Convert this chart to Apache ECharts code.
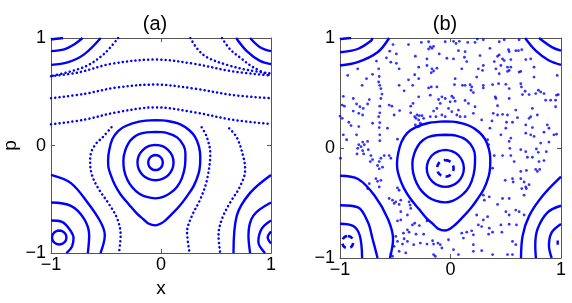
<!DOCTYPE html>
<html><head><meta charset="utf-8">
<script src="https://cdn.jsdelivr.net/npm/echarts@6/dist/echarts.min.js"></script>
<style>html,body{margin:0;padding:0;background:#fff}#c{width:572px;height:303px}</style>
</head><body><div id="c"></div>
<script>
// ---------- tick labels ----------
const ticks = [-1, 0, 1];
// ---------- panel (a) ----------
const aSmall = [[-0.05,-0.088],[-0.025,-0.093],[-0.003,-0.109],[0.011,-0.131],[0.016,-0.158],[0.011,-0.185],[-0.003,-0.207],[-0.025,-0.223],[-0.05,-0.228],[-0.075,-0.223],[-0.097,-0.207],[-0.111,-0.185],[-0.116,-0.158],[-0.111,-0.131],[-0.097,-0.109],[-0.075,-0.093],[-0.05,-0.088]];
const aMid = [[-0.05,0.006],[0.013,-0.006],[0.066,-0.042],[0.102,-0.095],[0.114,-0.158],[0.102,-0.221],[0.066,-0.274],[0.013,-0.31],[-0.05,-0.322],[-0.113,-0.31],[-0.166,-0.274],[-0.202,-0.221],[-0.214,-0.158],[-0.202,-0.095],[-0.166,-0.042],[-0.113,-0.006],[-0.05,0.006]];
const aEgg = [[-0.05,0.127],[0.05,0.118],[0.146,0.076],[0.205,0.0],[0.222,-0.076],[0.218,-0.19],[0.19,-0.303],[0.145,-0.385],[0.086,-0.44],[0.02,-0.478],[-0.05,-0.491],[-0.13,-0.478],[-0.2,-0.445],[-0.26,-0.39],[-0.306,-0.318],[-0.335,-0.23],[-0.342,-0.136],[-0.325,-0.045],[-0.291,0.03],[-0.25,0.075],[-0.2,0.106],[-0.13,0.123],[-0.05,0.127]];
const aTear = [[-0.05,0.236],[0.06,0.228],[0.176,0.197],[0.26,0.14],[0.312,0.076],[0.345,-0.01],[0.357,-0.106],[0.355,-0.18],[0.342,-0.258],[0.3,-0.37],[0.237,-0.47],[0.17,-0.56],[0.1,-0.636],[0.04,-0.695],[-0.005,-0.727],[-0.05,-0.742],[-0.11,-0.727],[-0.16,-0.685],[-0.216,-0.636],[-0.29,-0.55],[-0.367,-0.455],[-0.42,-0.365],[-0.457,-0.273],[-0.478,-0.2],[-0.481,-0.136],[-0.47,-0.04],[-0.442,0.06],[-0.39,0.135],[-0.321,0.182],[-0.2,0.222],[-0.05,0.236]];
const aL1 = [[-0.45,0.17],[-0.532,0.075],[-0.593,0.015],[-0.638,-0.076],[-0.644,-0.167],[-0.623,-0.288],[-0.563,-0.41],[-0.472,-0.545],[-0.397,-0.682],[-0.367,-0.834],[-0.382,-1.0]];
const aR1 = [[0.37,0.17],[0.418,0.075],[0.448,-0.076],[0.418,-0.318],[0.357,-0.5],[0.282,-0.652],[0.237,-0.803],[0.26,-1.0]];
const aR2 = [[0.62,0.16],[0.689,0.075],[0.749,-0.106],[0.765,-0.227],[0.719,-0.379],[0.629,-0.53],[0.554,-0.682],[0.523,-0.834],[0.538,-1.0]];
const aH1 = [[-1,0.645],[-0.75,0.68],[-0.45,0.76],[-0.05,0.80],[0.3,0.76],[0.65,0.69],[1,0.651]];
const aH2 = [[-1,0.44],[-0.7,0.48],[-0.4,0.54],[-0.05,0.567],[0.3,0.53],[0.65,0.47],[1,0.44]];
const aH3 = [[-1,0.197],[-0.7,0.24],[-0.4,0.31],[-0.05,0.355],[0.3,0.31],[0.65,0.24],[1,0.2]];
const aDL = [[-0.39,1.0],[-0.52,0.85],[-0.7,0.73],[-1,0.645]];
const aDR = [[0.554,1.0],[0.629,0.894],[0.719,0.818],[0.84,0.727],[0.991,0.651]];
const aDiag = [[0.267,1.0],[0.33,0.9],[0.42,0.82],[0.6,0.75],[0.8,0.7],[1,0.67]];
const aTL1 = [[-1,0.985],[-0.95,0.993],[-0.89,1.0]];
const aTL2 = [[-1,0.878],[-0.88,0.894],[-0.79,0.94],[-0.713,1.0]];
const aTL3 = [[-1,0.75],[-0.849,0.773],[-0.699,0.848],[-0.548,1.0]];
const aTRa = [[0.81,1.0],[0.90,0.915],[1.0,0.878]];
const aTRb = [[0.683,1.0],[0.78,0.878],[0.90,0.787],[1.0,0.757]];
const aBLs = [[-0.925,-0.79],[-0.9,-0.795],[-0.879,-0.809],[-0.865,-0.83],[-0.86,-0.855],[-0.865,-0.88],[-0.879,-0.901],[-0.9,-0.915],[-0.925,-0.92],[-0.95,-0.915],[-0.971,-0.901],[-0.985,-0.88],[-0.99,-0.855],[-0.985,-0.83],[-0.971,-0.809],[-0.95,-0.795],[-0.925,-0.79]];
const aBL2 = [[-1,-0.697],[-0.9,-0.71],[-0.83,-0.78],[-0.795,-0.86],[-0.81,-0.94],[-0.86,-1.0]];
const aBL3 = [[-1,-0.53],[-0.819,-0.561],[-0.699,-0.682],[-0.653,-0.834],[-0.665,-1.0]];
const aBL4 = [[-1,-0.273],[-0.819,-0.349],[-0.668,-0.53],[-0.548,-0.713],[-0.511,-0.834],[-0.55,-1.0]];
const aBR1 = [[1.0,-0.273],[0.81,-0.44],[0.689,-0.652],[0.659,-1.0]];
const aBR2 = [[1.0,-0.53],[0.84,-0.652],[0.795,-0.834],[0.81,-1.0]];
const aBR3 = [[1.0,-0.697],[0.916,-0.773],[0.885,-0.895],[0.946,-1.0]];
const aBR4 = [[1.0,-0.8],[0.97,-0.855],[1.0,-0.91]];
// ---------- panel (b) ----------
const bDash = [[-0.047,-0.11],[-0.018,-0.116],[0.006,-0.132],[0.022,-0.156],[0.028,-0.185],[0.022,-0.214],[0.006,-0.238],[-0.018,-0.254],[-0.047,-0.26],[-0.076,-0.254],[-0.1,-0.238],[-0.116,-0.214],[-0.122,-0.185],[-0.116,-0.156],[-0.1,-0.132],[-0.076,-0.116],[-0.047,-0.11]];
const bMid = [[-0.047,-0.017],[0.017,-0.03],[0.072,-0.066],[0.108,-0.121],[0.121,-0.185],[0.108,-0.249],[0.072,-0.304],[0.017,-0.34],[-0.047,-0.353],[-0.111,-0.34],[-0.166,-0.304],[-0.202,-0.249],[-0.215,-0.185],[-0.202,-0.121],[-0.166,-0.066],[-0.111,-0.03],[-0.047,-0.017]];
const bEgg = [[-0.05,0.12],[0.05,0.112],[0.146,0.07],[0.205,-0.005],[0.222,-0.08],[0.218,-0.19],[0.19,-0.305],[0.145,-0.387],[0.086,-0.442],[0.02,-0.48],[-0.05,-0.494],[-0.13,-0.48],[-0.2,-0.447],[-0.26,-0.392],[-0.306,-0.32],[-0.337,-0.23],[-0.345,-0.136],[-0.327,-0.048],[-0.291,0.025],[-0.25,0.07],[-0.2,0.1],[-0.13,0.116],[-0.05,0.12]];
const bTear = [[-0.05,0.242],[0.06,0.234],[0.176,0.2],[0.26,0.143],[0.312,0.08],[0.348,-0.01],[0.36,-0.106],[0.358,-0.18],[0.345,-0.258],[0.303,-0.37],[0.24,-0.47],[0.172,-0.562],[0.1,-0.64],[0.04,-0.7],[-0.005,-0.735],[-0.05,-0.75],[-0.11,-0.735],[-0.16,-0.69],[-0.216,-0.64],[-0.29,-0.55],[-0.367,-0.455],[-0.422,-0.365],[-0.46,-0.273],[-0.48,-0.2],[-0.484,-0.136],[-0.472,-0.04],[-0.442,0.06],[-0.39,0.137],[-0.321,0.185],[-0.2,0.227],[-0.05,0.242]];
const bTL1 = [[-1,0.99],[-0.95,0.996],[-0.9,1.0]];
const bTL2 = [[-1,0.87],[-0.84,0.90],[-0.72,0.975],[-0.705,1.0]];
const bTL3 = [[-1,0.75],[-0.84,0.78],[-0.66,0.87],[-0.555,1.0]];
const bTR1 = [[0.801,1.0],[0.921,0.915],[1.0,0.885]];
const bTR2 = [[0.675,1.0],[0.771,0.885],[0.891,0.795],[1.0,0.756]];
const bBL4 = [[-1,-0.252],[-0.837,-0.282],[-0.686,-0.434],[-0.566,-0.645],[-0.52,-0.827],[-0.548,-1.0]];
const bBL3 = [[-1,-0.52],[-0.837,-0.54],[-0.747,-0.676],[-0.705,-0.827],[-0.66,-1.0]];
const bBL2 = [[-1,-0.688],[-0.88,-0.71],[-0.82,-0.8],[-0.80,-1.0]];
const bBLd = [[-0.93,-0.8],[-0.91,-0.804],[-0.894,-0.816],[-0.884,-0.835],[-0.88,-0.855],[-0.884,-0.875],[-0.894,-0.894],[-0.91,-0.906],[-0.93,-0.91],[-0.95,-0.906],[-0.966,-0.894],[-0.976,-0.875],[-0.98,-0.855],[-0.976,-0.835],[-0.966,-0.816],[-0.95,-0.804],[-0.93,-0.8]];
const bBR1 = [[1.0,-0.26],[0.834,-0.434],[0.713,-0.615],[0.653,-0.797],[0.638,-1.0]];
const bBR2 = [[1.0,-0.525],[0.879,-0.585],[0.788,-0.736],[0.767,-0.888],[0.773,-1.0]];
const bBR3 = [[1.0,-0.69],[0.916,-0.767],[0.891,-0.888],[0.916,-1.0]];
const bBR4 = [[0.97,-0.84],[0.97,-0.88]];
const bChaos = [
[-0.52,0.94],[-0.38,0.94],[-0.55,0.88],[-0.49,0.855],[-0.58,0.82],[-0.54,0.78],[-0.49,0.77],[-0.67,0.79],[-0.84,0.72],[-0.65,0.72],[-0.465,0.72],[-0.93,0.66],[-0.705,0.67],[-0.76,0.63],[-0.645,0.65],[-0.65,0.60],[-0.38,0.62],[-0.80,0.57],[-0.64,0.57],[-0.465,0.57],[-0.63,0.54],[-0.42,0.52],[-0.97,0.47],[-0.62,0.49],[-0.88,0.45],[-0.735,0.44],[-0.63,0.45],[-0.98,0.39],[-0.96,0.38],[-0.85,0.40],[-0.82,0.375],[-0.75,0.40],[-0.64,0.38],[-0.555,0.39],[-0.53,0.38],[-0.36,0.38],[-0.88,0.336],[-0.79,0.36],[-0.83,0.315],[-0.795,0.30],[-0.64,0.32],[-0.46,0.34],[-0.36,0.32],[-1.0,0.29],[-0.98,0.27],[-0.65,0.285],[-0.51,0.30],[-0.92,0.234],[-0.705,0.225],[-0.64,0.23],[-0.90,0.204],[-0.83,0.195],[-0.645,0.186],[-0.57,0.18],[-0.97,0.12],[-0.85,0.12],[-0.64,0.12],[-0.94,0.075],[-0.795,0.054],[-0.75,0.06],[-0.64,0.066],[-0.48,0.08],[-0.83,0.03],[-0.78,0.03],
[-0.264,0.96],[-0.198,0.966],[-0.048,0.966],[0.027,0.97],[0.05,0.95],[0.08,0.97],[0.156,0.96],[0.222,0.96],[0.243,0.99],[0.297,0.984],[-0.183,0.92],[-0.168,0.906],[-0.153,0.924],[-0.198,0.90],[-0.102,0.855],[0.072,0.885],[0.132,0.876],[-0.318,0.834],[-0.213,0.81],[-0.033,0.816],[0.027,0.81],[0.126,0.825],[0.147,0.786],[0.267,0.84],[-0.288,0.735],[-0.213,0.75],[-0.168,0.72],[-0.153,0.70],[-0.123,0.726],[-0.174,0.684],[0.102,0.72],[0.252,0.72],[0.297,0.75],[0.29,0.705],[-0.324,0.666],[-0.288,0.63],[0.042,0.63],[0.237,0.645],[-0.342,0.57],[-0.198,0.546],[-0.174,0.555],[-0.123,0.555],[0.036,0.576],[0.108,0.57],[0.132,0.57],[0.177,0.576],[0.192,0.555],[0.186,0.525],[0.207,0.504],[0.297,0.57],[0.297,0.546],[-0.183,0.48],[-0.078,0.465],[-0.048,0.45],[0.012,0.471],[0.027,0.456],[-0.288,0.465],[-0.339,0.405],[-0.108,0.441],[-0.093,0.405],[-0.003,0.42],[0.042,0.426],[0.132,0.432],[0.162,0.405],[0.222,0.375],[-0.123,0.36],[-0.153,0.336],[-0.018,0.36],[0.012,0.33],[0.072,0.345],[0.207,0.315],[-0.303,0.30],[-0.324,0.285],[-0.282,0.294],[-0.258,0.294],[-0.312,0.27],[-0.288,0.255],[-0.243,0.27],[-0.183,0.285],[-0.132,0.285],[-0.078,0.30],[-0.048,0.285],[0.057,0.30],[0.087,0.285],[0.132,0.285],[0.282,0.255],[-0.273,0.225],[-0.318,0.21],[-0.288,0.195],
[0.441,0.966],[0.486,0.984],[0.621,0.984],[0.357,0.906],[0.525,0.894],[0.531,0.876],[0.591,0.885],[0.615,0.885],[0.645,0.894],[0.441,0.846],[0.426,0.834],[0.396,0.786],[0.471,0.81],[0.486,0.795],[0.546,0.804],[0.681,0.804],[0.726,0.81],[0.456,0.75],[0.411,0.72],[0.516,0.735],[0.546,0.735],[0.531,0.705],[0.516,0.696],[0.621,0.69],[0.636,0.696],[0.756,0.735],[0.441,0.675],[0.756,0.645],[0.966,0.66],[0.381,0.576],[0.435,0.585],[0.501,0.579],[0.531,0.54],[0.636,0.585],[0.642,0.555],[0.675,0.516],[0.711,0.486],[0.771,0.495],[0.795,0.525],[0.816,0.51],[0.846,0.495],[0.96,0.48],[0.975,0.486],[0.951,0.435],[0.405,0.465],[0.411,0.45],[0.531,0.45],[0.651,0.486],[0.861,0.435],[0.906,0.435],[0.426,0.384],[0.591,0.345],[0.741,0.36],[0.951,0.375],[0.426,0.30],[0.471,0.306],[0.387,0.315],[0.516,0.30],[0.606,0.276],[0.711,0.27],[0.726,0.285],[0.786,0.30],[0.375,0.246],[0.507,0.234],[0.561,0.234],[0.681,0.21],[0.876,0.21],[0.891,0.18],[0.357,0.18],[0.501,0.18],[0.741,0.186],[0.456,0.12],[0.681,0.135],[0.726,0.12],[0.756,0.105],[0.846,0.144],[0.936,0.12],[0.96,0.126],[0.336,0.075],[0.546,0.09],[0.531,0.06],[0.816,0.045],[0.891,0.054],[0.345,0.03],
[-0.84,-0.003],[-0.81,0.012],[-0.795,-0.024],[-0.744,-0.015],[-0.996,-0.093],[-0.846,-0.054],[-0.786,-0.054],[-0.72,-0.069],[-0.705,-0.105],[-0.726,-0.123],[-0.645,-0.123],[-0.63,-0.093],[-0.60,-0.069],[-0.555,-0.069],[-0.54,-0.093],[-0.66,-0.159],[-0.645,-0.189],[-0.615,-0.174],[-0.675,-0.279],[-0.66,-0.303],[-0.63,-0.294],[-0.735,-0.324],[-0.645,-0.354],[-0.75,-0.369],[-0.48,-0.363],[-0.465,-0.384],[-0.555,-0.459],[-0.525,-0.474],[-0.51,-0.504],[-0.495,-0.489],[-0.45,-0.474],[-0.465,-0.513],[-0.375,-0.489],[-0.366,-0.519],[-0.36,-0.549],[-0.45,-0.579],[-0.39,-0.609],[-0.48,-0.663],[-0.45,-0.654],[-0.345,-0.699],[-0.39,-0.744],[-0.426,-0.774],[-0.375,-0.765],[-0.495,-0.804],[-0.48,-0.849],[-0.42,-0.825],[-0.435,-0.873],[-0.39,-0.849],[-0.51,-0.894],[-0.465,-0.939],[-0.405,-0.954],[-0.54,-0.963],[-0.525,-0.984],
[0.297,-0.429],[0.306,-0.474],[-0.324,-0.684],[-0.282,-0.705],[-0.213,-0.663],[-0.312,-0.783],[-0.243,-0.783],[-0.333,-0.879],[-0.273,-0.864],[-0.213,-0.873],[-0.162,-0.843],[-0.153,-0.873],[-0.114,-0.864],[-0.093,-0.879],[-0.078,-0.909],[-0.018,-0.834],[0.027,-0.924],[0.102,-0.774],[0.147,-0.765],[0.117,-0.819],[0.192,-0.753],[0.207,-0.789],[0.252,-0.699],[0.282,-0.714],[0.237,-0.609],[0.297,-0.654],[0.207,-0.879],[0.207,-0.939],[0.282,-0.933],[-0.153,-0.969],[-0.138,-0.984],[0.072,-0.969],
[0.537,-0.003],[0.636,-0.015],[0.681,-0.033],[0.777,-0.009],[0.795,-0.039],[0.867,-0.033],[0.396,-0.069],[0.471,-0.069],[0.546,-0.069],[0.576,-0.123],[0.696,-0.084],[0.741,-0.084],[0.801,-0.123],[0.846,-0.114],[0.381,-0.183],[0.636,-0.213],[0.687,-0.204],[0.771,-0.195],[0.786,-0.213],[0.807,-0.195],[0.495,-0.294],[0.561,-0.279],[0.567,-0.309],[0.636,-0.279],[0.666,-0.309],[0.681,-0.354],[0.687,-0.369],[0.645,-0.369],[0.711,-0.333],[0.351,-0.444],[0.471,-0.459],[0.531,-0.459],[0.666,-0.429],[0.426,-0.513],[0.501,-0.579],[0.531,-0.609],[0.591,-0.564],[0.621,-0.579],[0.666,-0.609],[0.336,-0.624],[0.456,-0.699],[0.531,-0.693],[0.597,-0.699],[0.351,-0.729],[0.381,-0.765],[0.465,-0.765],[0.345,-0.783],[0.561,-0.849],[0.591,-0.879],[0.381,-0.969],[0.516,-0.969],[0.561,-0.969]
];

const BLUE = '#0000ff';
const solid = {width: 2.4, color: BLUE};
const dotted = {width: 2.5, color: BLUE, type: [0.1, 4.2], cap: 'round'};
const dashed = {width: 2.6, color: BLUE, type: [5.5, 4.5]};

function curve(data, gi, style) {
  return {type: 'line', xAxisIndex: gi * 2, yAxisIndex: gi * 2, data: data, smooth: 0.35,
    showSymbol: false, silent: true, lineStyle: style, clip: true, animation: false, z: 2};
}
const series = [
  curve(aSmall,0,solid), curve(aMid,0,solid), curve(aEgg,0,solid), curve(aTear,0,solid),
  curve(aL1,0,dotted), curve(aR1,0,dotted), curve(aR2,0,dotted),
  curve(aH1,0,dotted), curve(aH2,0,dotted), curve(aH3,0,dotted),
  curve(aDL,0,dotted), curve(aDR,0,dotted), curve(aDiag,0,dotted),
  curve(aTL1,0,solid), curve(aTL2,0,solid), curve(aTL3,0,solid), curve(aTRa,0,solid), curve(aTRb,0,solid),
  curve(aBLs,0,solid), curve(aBL2,0,solid), curve(aBL3,0,solid), curve(aBL4,0,solid),
  curve(aBR1,0,solid), curve(aBR2,0,solid), curve(aBR3,0,solid), curve(aBR4,0,solid),
  curve(bDash,1,dashed), curve(bMid,1,solid), curve(bEgg,1,solid), curve(bTear,1,solid),
  curve(bTL1,1,solid), curve(bTL2,1,solid), curve(bTL3,1,solid), curve(bTR1,1,solid), curve(bTR2,1,solid),
  curve(bBL4,1,solid), curve(bBL3,1,solid), curve(bBL2,1,solid), curve(bBLd,1,dashed),
  curve(bBR1,1,solid), curve(bBR2,1,solid), curve(bBR3,1,solid), curve(bBR4,1,solid),
  {type:'scatter', xAxisIndex:2, yAxisIndex:2, data:bChaos, symbolSize:2.8, itemStyle:{color:BLUE},
   silent:true, animation:false}
];

const FONT = 'Liberation Sans';
const fmt = v => (v < 0 ? '\u2212' + Math.abs(v) : String(v));
const frame = {lineStyle: {color: '#555', width: 1}};
function xAx(gi, bottom, name) {
  return {gridIndex: gi, type: 'value', min: -1, max: 1, interval: 1, position: bottom ? 'bottom' : 'top',
    axisLine: {show: true, onZero: false, ...frame}, splitLine: {show: false},
    axisTick: {show: true, inside: true, length: 4, ...frame},
    axisLabel: {show: bottom, fontSize: 18, color: '#000', fontFamily: FONT, margin: 3, formatter: fmt},
    name: bottom ? name : '', nameLocation: 'middle', nameGap: 21,
    nameTextStyle: {fontSize: 19, color: '#000', fontFamily: FONT}};
}
function yAx(gi, left, name) {
  return {gridIndex: gi, type: 'value', min: -1, max: 1, interval: 1, position: left ? 'left' : 'right',
    axisLine: {show: true, onZero: false, ...frame}, splitLine: {show: false},
    axisTick: {show: true, inside: true, length: 4, ...frame},
    axisLabel: {show: left, fontSize: 18, color: '#000', fontFamily: FONT, margin: 5, formatter: fmt},
    name: left ? name : '', nameLocation: 'middle', nameGap: 31,
    nameTextStyle: {fontSize: 19, color: '#000', fontFamily: FONT}};
}
const chart = echarts.init(document.getElementById('c'), null, {renderer: 'canvas'});
chart.setOption({
  animation: false,
  backgroundColor: '#fff',
  title: [
    {text: '(a)', left: 150, top: 9, textAlign: 'center', textStyle: {fontSize: 20, fontWeight: 'normal', color: '#000', fontFamily: FONT}},
    {text: '(b)', left: 440, top: 9, textAlign: 'center', textStyle: {fontSize: 20, fontWeight: 'normal', color: '#000', fontFamily: FONT}}
  ],
  grid: [
    {left: 50, top: 38, width: 221, height: 220},
    {left: 340, top: 38, width: 221, height: 220}
  ],
  xAxis: [xAx(0, true, 'x'), xAx(0, false, ''), xAx(1, true, ''), xAx(1, false, '')],
  yAxis: [yAx(0, true, 'p'), yAx(0, false, ''), yAx(1, true, ''), yAx(1, false, '')],
  series: series
});
</script></body></html>
